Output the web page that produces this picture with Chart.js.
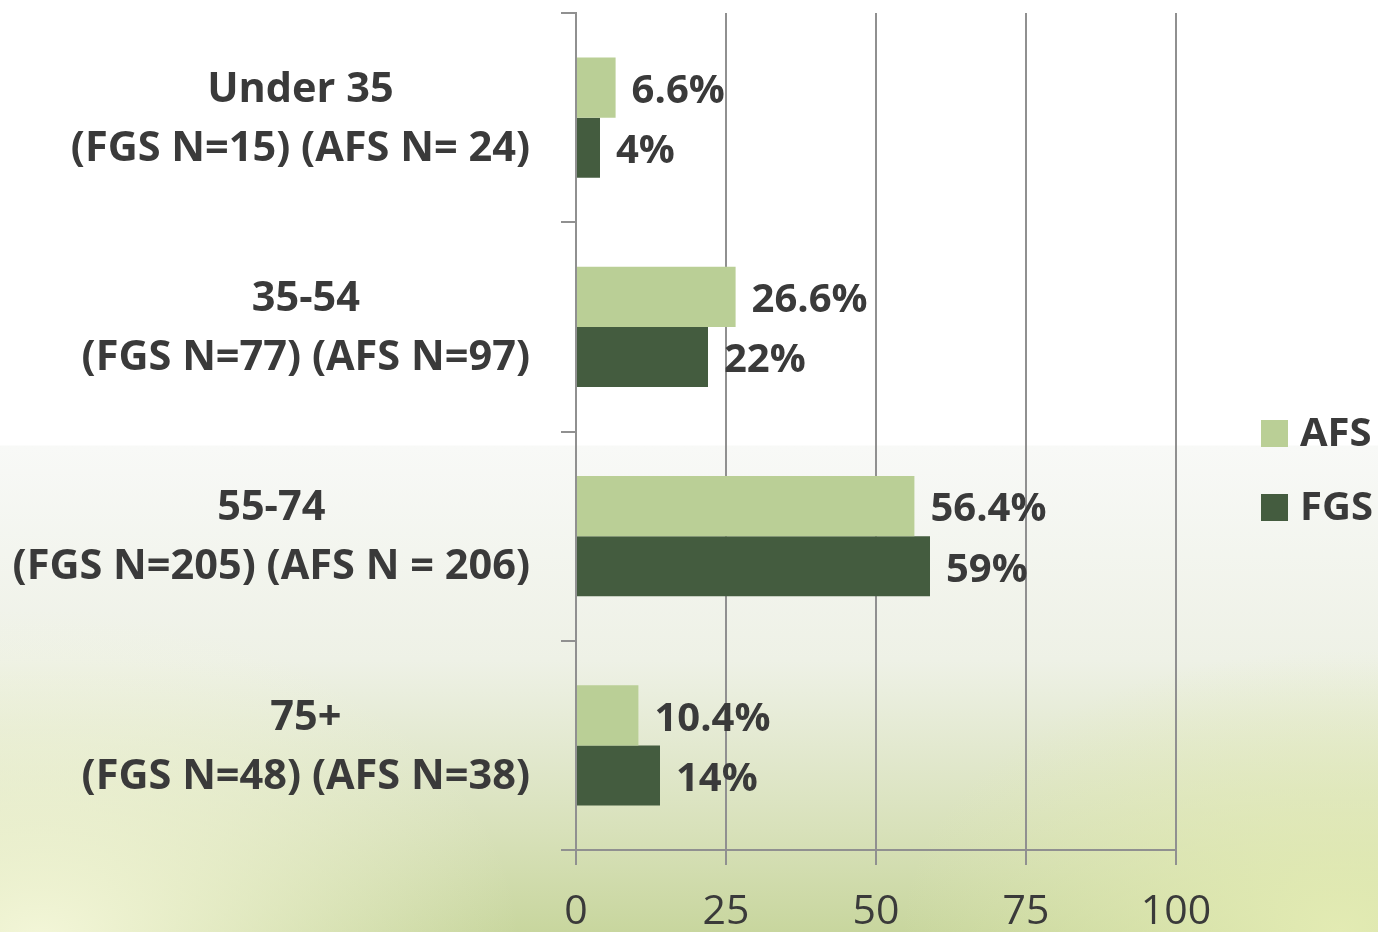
<!DOCTYPE html>
<html>
<head>
<meta charset="utf-8">
<script src="https://cdn.jsdelivr.net/npm/chart.js@4.4.0/dist/chart.umd.min.js"></script>
<style>
  html, body { margin: 0; padding: 0; }
  body {
    width: 1378px; height: 932px; overflow: hidden;
    background:
      radial-gradient(ellipse 440px 280px at 1340px 930px, rgba(228,236,180,0.95), rgba(228,236,180,0) 100%),
      radial-gradient(ellipse 480px 330px at 40px 940px, rgba(243,246,216,1), rgba(243,246,216,0) 100%),
      linear-gradient(to bottom, #ffffff 0, #ffffff 445px, #f8f9f7 446px, #eef1e6 660px, #d8e1ba 830px, #c8d69e 932px);
  }
</style>
</head>
<body>
<canvas id="chart" width="1378" height="932"></canvas>
<script>
const categories = [
  ["Under 35", "(FGS N=15) (AFS N= 24)"],
  ["35-54", "(FGS N=77) (AFS N=97)"],
  ["55-74", "(FGS N=205) (AFS N = 206)"],
  ["75+", "(FGS N=48) (AFS N=38)"]
];
const seriesNames = ["AFS", "FGS"];
const afsValues = [6.6, 26.6, 56.4, 10.4];
const fgsValues = [4, 22, 59, 14];
const afsLabels = ["6.6%", "26.6%", "56.4%", "10.4%"];
const fgsLabels = ["4%", "22%", "59%", "14%"];
const xTicks = [0, 25, 50, 75, 100];

const FONT = "'Open Sans'";
const textColor = "#3a3a3a";
const gridColor = "#909090";

// category labels: each block centred on itself, block right aligned
const categoryLabelPlugin = {
  id: "categoryLabels",
  afterDraw(chart) {
    const ctx = chart.ctx;
    const y = chart.scales.y;
    ctx.save();
    ctx.font = "bold 41.5px " + FONT;
    ctx.fillStyle = textColor;
    ctx.textAlign = "center";
    ctx.textBaseline = "middle";
    const lineH = 59;
    categories.forEach((lines, i) => {
      const py = y.getPixelForTick(i) + 2;
      const w = Math.max(...lines.map(l => ctx.measureText(l).width));
      const cx = 530 - w / 2;
      lines.forEach((l, j) => {
        ctx.fillText(l, cx, py + (j - (lines.length - 1) / 2) * lineH);
      });
    });
    ctx.restore();
  }
};

// value labels at the end of each bar
const valueLabelPlugin = {
  id: "valueLabels",
  afterDatasetsDraw(chart) {
    const ctx = chart.ctx;
    const texts = [afsLabels, fgsLabels];
    ctx.save();
    ctx.font = "bold 40px " + FONT;
    ctx.fillStyle = textColor;
    ctx.textAlign = "left";
    ctx.textBaseline = "middle";
    chart.data.datasets.forEach((ds, di) => {
      chart.getDatasetMeta(di).data.forEach((bar, i) => {
        ctx.fillText(texts[di][i], bar.x + 16, bar.y + 4);
      });
    });
    ctx.restore();
  }
};

// legend to the right of the plot
const legendPlugin = {
  id: "sideLegend",
  afterDraw(chart) {
    const ctx = chart.ctx;
    ctx.save();
    ctx.font = "bold 40px " + FONT;
    ctx.textBaseline = "middle";
    chart.data.datasets.forEach((ds, i) => {
      const cy = 433 + i * 74;
      ctx.fillStyle = ds.backgroundColor;
      ctx.fillRect(1261, cy - 13, 27, 27);
      ctx.fillStyle = textColor;
      ctx.fillText(ds.label, 1300, cy + 2);
    });
    ctx.restore();
  }
};

new Chart(document.getElementById("chart"), {
  type: "bar",
  data: {
    labels: categories,
    datasets: [
      { label: seriesNames[0], data: afsValues, backgroundColor: "#bacf96" },
      { label: seriesNames[1], data: fgsValues, backgroundColor: "#445c3f" }
    ]
  },
  options: {
    indexAxis: "y",
    responsive: false,
    animation: false,
    devicePixelRatio: 1,
    categoryPercentage: 0.574,
    barPercentage: 1,
    layout: { padding: { top: 13, right: 202, left: 0, bottom: 0 } },
    plugins: {
      legend: { display: false },
      tooltip: { enabled: false }
    },
    scales: {
      x: {
        min: 0,
        max: 100,
        afterBuildTicks(scale) { scale.ticks = xTicks.map(v => ({ value: v })); },
        afterFit(scale) { scale.height = 82; },
        ticks: { color: textColor, font: { family: FONT, size: 41 }, padding: 23 },
        grid: { color: gridColor, lineWidth: 2, tickLength: 15 },
        border: { color: gridColor, width: 2 }
      },
      y: {
        afterFit(scale) { scale.width = 576; },
        ticks: { display: false },
        grid: { offset: true, drawOnChartArea: false, color: gridColor, lineWidth: 2, tickLength: 15 },
        border: { color: gridColor, width: 2 }
      }
    }
  },
  plugins: [categoryLabelPlugin, valueLabelPlugin, legendPlugin]
});
</script>
</body>
</html>
